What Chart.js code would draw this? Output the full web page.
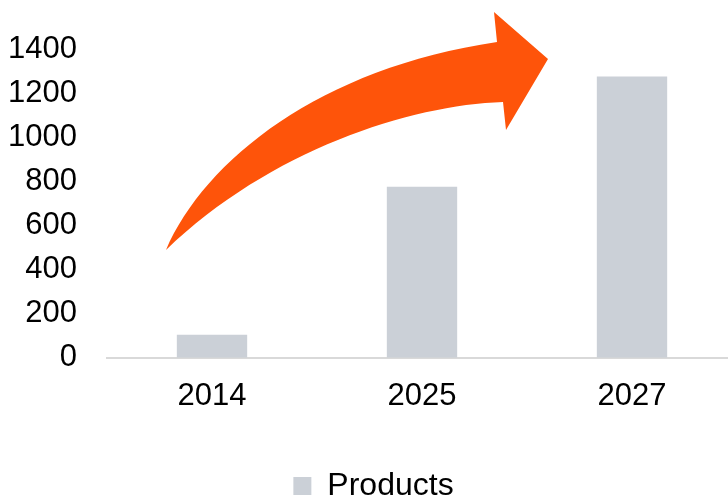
<!DOCTYPE html>
<html>
<head>
<meta charset="utf-8">
<script src="https://cdn.jsdelivr.net/npm/chart.js@4"></script>
<style>
  body { margin: 0; overflow: hidden; background: #fff; }
  #wrap { width: 737px; height: 512px; }
</style>
</head>
<body>
<div id="wrap"><canvas id="myChart" width="737" height="512"></canvas></div>
<script>
// chart data
let years = ["2014", "2025", "2027"];
let products = [105, 775, 1275];
let yTicks = [0, 200, 400, 600, 800, 1000, 1200, 1400];

//The big orange arrow is just decoration, drawn on top of the chart
let arrowPlugin = {
  id: "arrow",
  afterDraw: (chart) => {
    let c = chart.ctx;
    c.save();
    c.fillStyle = "#FE540A";
    c.beginPath();
    c.moveTo(166, 250);
    //upper edge of the shaft
    c.bezierCurveTo(205, 160, 320, 68, 497, 42);
    //arrow head
    c.lineTo(494, 12);
    c.lineTo(548, 59);
    c.lineTo(506, 130);
    c.lineTo(503, 102);
    //lower edge back to the tail
    c.bezierCurveTo(410, 105, 270, 150, 166, 250);
    c.closePath();
    c.fill();
    c.restore();
  }
};

const ctx = document.getElementById("myChart").getContext("2d");
let myChart = new Chart(ctx, {
  type: "bar",
  data: {
    labels: years,
    datasets: [{
      label: "Products",
      data: products,
      backgroundColor: "#CBD0D7",
      borderWidth: 0,
      categoryPercentage: 1,
      barPercentage: 0.335
    }]
  },
  options: {
    responsive: false,
    animation: false,
    layout: { padding: { top: 49, left: 10, right: 0, bottom: 0 } },
    scales: {
      x: {
        grid: { display: false },
        border: { display: true, color: "#D9D9D9", width: 2 },
        ticks: { color: "#000", font: { family: "Liberation Sans", size: 31 }, padding: 12 },
        //extra room between the year labels and the legend
        afterFit: (axis) => { axis.height += 19; }
      },
      y: {
        min: 0,
        max: 1400,
        afterBuildTicks: (axis) => { axis.ticks = yTicks.map(v => ({ value: v })); },
        //fixed width so the plot starts where the original does
        afterFit: (axis) => { axis.width = 97; },
        grid: { display: false },
        border: { display: false },
        ticks: {
          color: "#000",
          font: { family: "Liberation Sans", size: 31 },
          padding: 22,
          callback: (v) => String(v)
        }
      }
    },
    plugins: {
      legend: {
        position: "bottom",
        labels: {
          color: "#000",
          font: { family: "Liberation Sans", size: 32 },
          boxWidth: 18,
          boxHeight: 18,
          padding: 24
        }
      },
      tooltip: { enabled: false }
    }
  },
  plugins: [arrowPlugin]
});
</script>
</body>
</html>
